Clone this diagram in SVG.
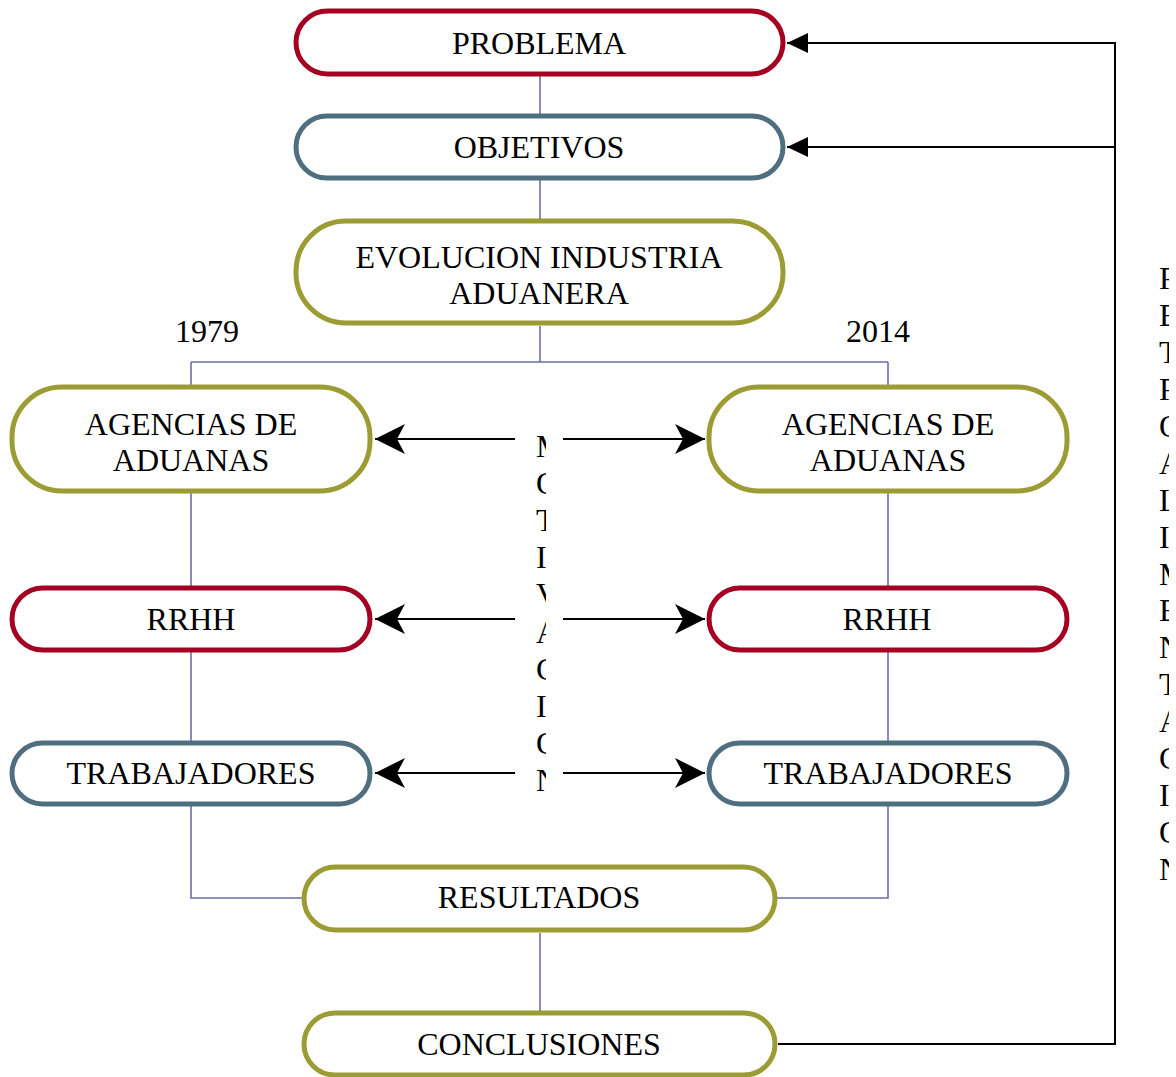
<svg xmlns="http://www.w3.org/2000/svg" width="1176" height="1077" viewBox="0 0 1176 1077">
<style>
.n{fill:#fff;stroke-width:5}
.red{stroke:#A50021}
.blue{stroke:#4F6E80}
.olive{stroke:#9C9C35}
.t{font-family:"Liberation Serif","Times New Roman",serif;font-size:32px;fill:#000;text-anchor:middle}
.v{font-family:"Liberation Serif","Times New Roman",serif;font-size:32px;fill:#000}
.c{fill:none;stroke:#6E6EA8;stroke-width:1.6}
.fb{fill:none;stroke:#000;stroke-width:2}
.ar{fill:none;stroke:#000;stroke-width:2.2}
</style>
<defs>
<marker id="tri" markerUnits="userSpaceOnUse" markerWidth="22" markerHeight="22" refX="21" refY="10" orient="auto">
<path d="M0,0 L21,10 L0,20 z" fill="#000"/>
</marker>
<marker id="stealth" markerUnits="userSpaceOnUse" markerWidth="32" markerHeight="32" refX="30" refY="15" orient="auto">
<path d="M0,0 L30,15 L0,30 L8,15 z" fill="#000"/>
</marker>
<clipPath id="clipC"><rect x="520" y="420" width="26" height="390"/></clipPath>
<clipPath id="clipR"><rect x="1140" y="250" width="29" height="640"/></clipPath>
</defs>

<g id="connectors">
<path class="c" d="M540,76 V116"/>
<path class="c" d="M540,180 V221"/>
<path class="c" d="M540,326 V362 M191,362 H888 M191,362 V387 M888,362 V387"/>
<path class="c" d="M191,493 V588 M888,493 V588"/>
<path class="c" d="M191,652 V743 M888,652 V743"/>
<path class="c" d="M191,806 V898 H304 M888,806 V898 H775"/>
<path class="c" d="M540,933 V1012"/>
<path class="fb" d="M778,1044 H1115 V43 H787" marker-end="url(#tri)"/>
<path class="fb" d="M1115,147 H787" marker-end="url(#tri)"/>
<line class="ar" x1="515" y1="439" x2="375" y2="439" marker-end="url(#stealth)"/>
<line class="ar" x1="563" y1="439" x2="705" y2="439" marker-end="url(#stealth)"/>
<line class="ar" x1="515" y1="619" x2="375" y2="619" marker-end="url(#stealth)"/>
<line class="ar" x1="563" y1="619" x2="705" y2="619" marker-end="url(#stealth)"/>
<line class="ar" x1="515" y1="773" x2="375" y2="773" marker-end="url(#stealth)"/>
<line class="ar" x1="563" y1="773" x2="705" y2="773" marker-end="url(#stealth)"/>
</g>

<g id="problema"><rect class="n red" x="296" y="11" width="487" height="63" rx="31.5"/><text class="t" x="539" y="54">PROBLEMA</text></g>
<g id="objetivos"><rect class="n blue" x="296" y="116" width="487" height="62" rx="31"/><text class="t" x="539" y="158">OBJETIVOS</text></g>
<g id="evolucion"><rect class="n olive" x="296" y="221" width="487" height="102" rx="50"/><text class="t" x="539" y="268">EVOLUCION INDUSTRIA</text><text class="t" x="539" y="304">ADUANERA</text></g>
<g id="year1979"><text class="t" x="207" y="342">1979</text></g>
<g id="year2014"><text class="t" x="878" y="342">2014</text></g>
<g id="agencias1979"><rect class="n olive" x="12" y="387" width="358" height="104" rx="50"/><text class="t" x="191" y="435">AGENCIAS DE</text><text class="t" x="191" y="471">ADUANAS</text></g>
<g id="agencias2014"><rect class="n olive" x="709" y="387" width="358" height="104" rx="50"/><text class="t" x="888" y="435">AGENCIAS DE</text><text class="t" x="888" y="471">ADUANAS</text></g>
<g id="rrhh1979"><rect class="n red" x="12" y="588" width="358" height="62" rx="31"/><text class="t" x="191" y="630">RRHH</text></g>
<g id="rrhh2014"><rect class="n red" x="709" y="588" width="358" height="62" rx="31"/><text class="t" x="887" y="630">RRHH</text></g>
<g id="trab1979"><rect class="n blue" x="12" y="743" width="358" height="61" rx="30.5"/><text class="t" x="191" y="784">TRABAJADORES</text></g>
<g id="trab2014"><rect class="n blue" x="709" y="743" width="358" height="61" rx="30.5"/><text class="t" x="888" y="784">TRABAJADORES</text></g>
<g id="resultados"><rect class="n olive" x="304" y="867" width="471" height="63" rx="31.5"/><text class="t" x="539" y="908">RESULTADOS</text></g>
<g id="conclusiones"><rect class="n olive" x="304" y="1013" width="471" height="62" rx="31"/><text class="t" x="539" y="1055">CONCLUSIONES</text></g>

<g id="motivacion" clip-path="url(#clipC)">
<text class="v" x="536" y="457">M</text>
<text class="v" x="536" y="494">O</text>
<text class="v" x="536" y="531">T</text>
<text class="v" x="536" y="568">I</text>
<text class="v" x="536" y="605">V</text>
<text class="v" x="536" y="643">A</text>
<text class="v" x="536" y="680">C</text>
<text class="v" x="536" y="717">I</text>
<text class="v" x="536" y="754">O</text>
<text class="v" x="536" y="791">N</text>
</g>

<g id="retroalimentacion" clip-path="url(#clipR)">
<text class="v" x="1159" y="289">R</text>
<text class="v" x="1159" y="326">E</text>
<text class="v" x="1159" y="363">T</text>
<text class="v" x="1159" y="400">R</text>
<text class="v" x="1159" y="437">O</text>
<text class="v" x="1159" y="474">A</text>
<text class="v" x="1159" y="511">L</text>
<text class="v" x="1159" y="548">I</text>
<text class="v" x="1159" y="585">M</text>
<text class="v" x="1159" y="621">E</text>
<text class="v" x="1159" y="658">N</text>
<text class="v" x="1159" y="695">T</text>
<text class="v" x="1159" y="732">A</text>
<text class="v" x="1159" y="769">C</text>
<text class="v" x="1159" y="806">I</text>
<text class="v" x="1159" y="843">O</text>
<text class="v" x="1159" y="880">N</text>
</g>
</svg>
